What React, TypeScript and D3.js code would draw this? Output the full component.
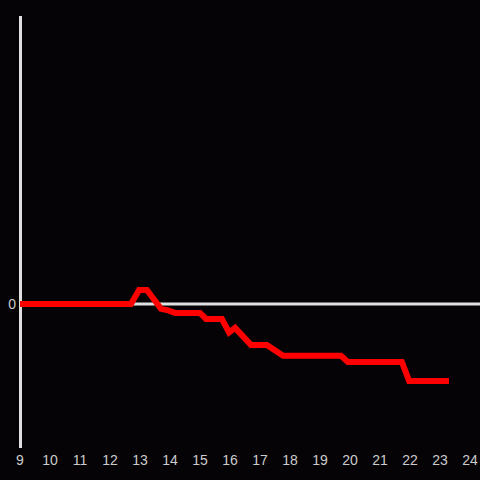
import React from "react";
import * as d3 from "d3";

const hours = [9, 12.7, 12.97, 13.23, 13.7, 13.9, 14.17, 15.0, 15.2, 15.73, 15.97, 16.17, 16.7, 17.23, 17.77, 19.7, 19.93, 21.73, 21.97, 23.3];
const values = [0, 0, 0.49, 0.49, -0.17, -0.21, -0.31, -0.31, -0.52, -0.52, -0.99, -0.83, -1.42, -1.42, -1.8, -1.8, -2.01, -2.01, -2.67, -2.67];
const xTicks = [9, 10, 11, 12, 13, 14, 15, 16, 17, 18, 19, 20, 21, 22, 23, 24];
const yTicks = [0];

export default function App() {
  const W = 480, H = 480;
  const x = d3.scaleLinear().domain([9, 24]).range([20, 470]);
  const y = d3.scaleLinear().domain([-5, 10]).range([448, 16]);
  const pts: [number, number][] = hours.map((h, i) => [h, values[i]]);
  const line = d3.line<[number, number]>().x(d => x(d[0])).y(d => y(d[1]));
  return (
    <svg width={W} height={H} style={{ position: "absolute", left: 0, top: 0, background: "#050306" }}>
      <rect x={0} y={0} width={W} height={H} fill="#050306" />
      <line x1={x(9) + 0.5} x2={x(9) + 0.5} y1={y(10)} y2={y(-5)} stroke="#e0e0e0" strokeWidth={3} />
      {yTicks.map(t => (
        <g key={t}>
          <line x1={x(9)} x2={W} y1={y(t)} y2={y(t)} stroke="#e0e0e0" strokeWidth={3} />
          <text x={16} y={y(t)} textAnchor="end" dominantBaseline="central" fill="#cccccc" fontSize={14} fontFamily="Liberation Sans, Arial, sans-serif">{t}</text>
        </g>
      ))}
      {xTicks.map(t => (
        <text key={t} x={x(t)} y={460} textAnchor="middle" dominantBaseline="central" fill="#cccccc" fontSize={14} fontFamily="Liberation Sans, Arial, sans-serif">{t}</text>
      ))}
      <path d={line(pts) || ""} fill="none" stroke="#ff0000" strokeWidth={6} strokeLinejoin="miter" strokeLinecap="butt" />
    </svg>
  );
}
